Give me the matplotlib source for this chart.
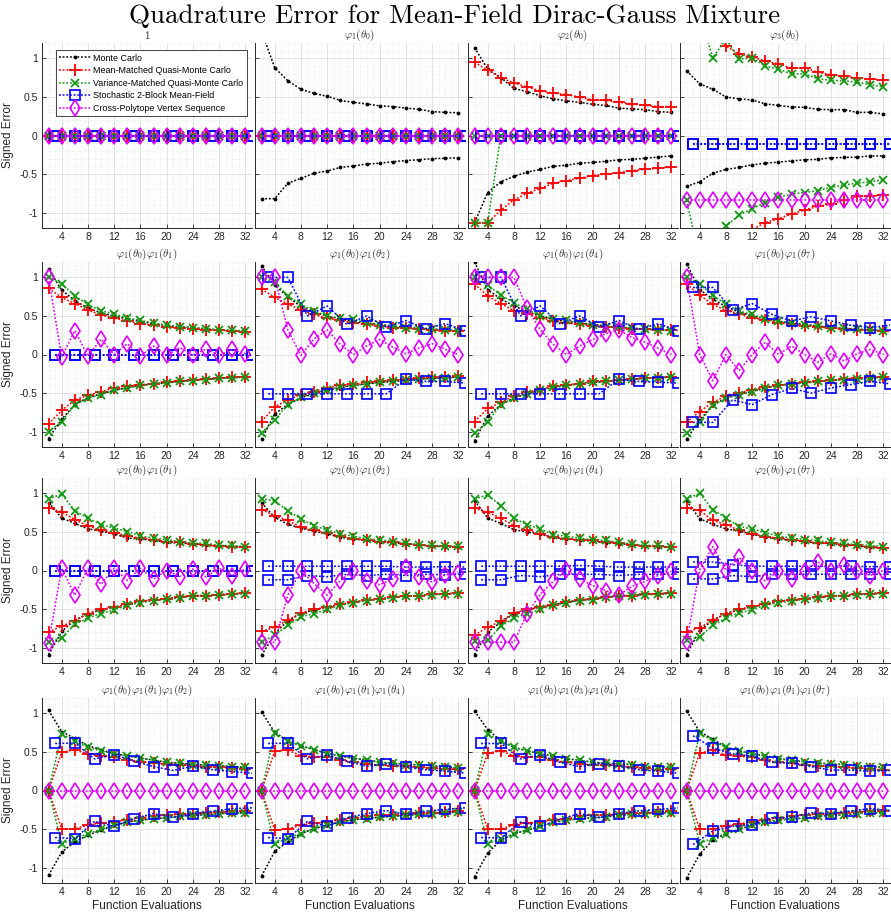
import matplotlib
matplotlib.use('Agg')
import matplotlib.pyplot as plt
from matplotlib.ticker import MultipleLocator

plt.rcParams['font.family'] = ['Liberation Sans', 'DejaVu Sans']
plt.rcParams['mathtext.fontset'] = 'cm'
plt.rcParams['axes.unicode_minus'] = False

# ---------------- data ----------------
x_even = [2, 4, 6, 8, 10, 12, 14, 16, 18, 20, 22, 24, 26, 28, 30, 32]
x_blue = [3, 6, 9, 12, 15, 18, 21, 24, 27, 30, 33]
x_ticks = [4, 8, 12, 16, 20, 24, 28, 32]
y_ticks = [-1, -0.5, 0, 0.5, 1]
y_ticklabels = ['-1', '-0.5', '0', '0.5', '1']

panel_titles = [
    r'$1$', r'$\varphi_1(\theta_0)$', r'$\varphi_2(\theta_0)$', r'$\varphi_3(\theta_0)$',
    r'$\varphi_1(\theta_0)\varphi_1(\theta_1)$', r'$\varphi_1(\theta_0)\varphi_1(\theta_2)$',
    r'$\varphi_1(\theta_0)\varphi_1(\theta_4)$', r'$\varphi_1(\theta_0)\varphi_1(\theta_7)$',
    r'$\varphi_2(\theta_0)\varphi_1(\theta_1)$', r'$\varphi_2(\theta_0)\varphi_1(\theta_2)$',
    r'$\varphi_2(\theta_0)\varphi_1(\theta_4)$', r'$\varphi_2(\theta_0)\varphi_1(\theta_7)$',
    r'$\varphi_1(\theta_0)\varphi_1(\theta_1)\varphi_1(\theta_2)$',
    r'$\varphi_1(\theta_0)\varphi_1(\theta_1)\varphi_1(\theta_4)$',
    r'$\varphi_1(\theta_0)\varphi_1(\theta_3)\varphi_1(\theta_4)$',
    r'$\varphi_1(\theta_0)\varphi_1(\theta_1)\varphi_1(\theta_7)$',
]
method_labels = ['Monte Carlo', 'Mean-Matched Quasi-Monte Carlo',
                 'Variance-Matched Quasi-Monte Carlo', 'Stochastic 2-Block Mean-Field',
                 'Cross-Polytope Vertex Sequence']

Z16 = [0, 0, 0, 0, 0, 0, 0, 0, 0, 0, 0, 0, 0, 0, 0, 0]
Z11 = [0, 0, 0, 0, 0, 0, 0, 0, 0, 0, 0]

mc_upper = [
    Z16,
    [1.35, 0.88, 0.71, 0.60, 0.545, 0.51, 0.455, 0.43, 0.41, 0.385, 0.375, 0.355, 0.34, 0.31, 0.30, 0.295],
    [1.14, 0.86, 0.75, 0.61, 0.57, 0.515, 0.475, 0.45, 0.43, 0.405, 0.39, 0.355, 0.345, 0.335, 0.31, 0.30],
    [0.84, 0.67, 0.60, 0.50, 0.475, 0.46, 0.41, 0.39, 0.37, 0.365, 0.34, 0.335, 0.335, 0.30, 0.30, 0.28],
    [1.11, 0.835, 0.70, 0.60, 0.54, 0.50, 0.46, 0.43, 0.40, 0.38, 0.36, 0.35, 0.33, 0.32, 0.31, 0.30],
    [1.15, 0.90, 0.75, 0.62, 0.55, 0.50, 0.46, 0.43, 0.41, 0.39, 0.37, 0.35, 0.34, 0.33, 0.32, 0.31],
    [1.20, 0.84, 0.72, 0.63, 0.56, 0.50, 0.46, 0.43, 0.41, 0.39, 0.37, 0.35, 0.34, 0.33, 0.32, 0.31],
    [1.18, 0.84, 0.72, 0.62, 0.55, 0.50, 0.46, 0.43, 0.41, 0.39, 0.37, 0.35, 0.34, 0.33, 0.32, 0.31],
    [0.88, 0.68, 0.61, 0.54, 0.51, 0.475, 0.42, 0.41, 0.39, 0.365, 0.355, 0.345, 0.33, 0.315, 0.315, 0.30],
    [0.88, 0.69, 0.60, 0.55, 0.51, 0.475, 0.43, 0.41, 0.39, 0.37, 0.355, 0.345, 0.33, 0.315, 0.31, 0.30],
    [0.905, 0.68, 0.61, 0.53, 0.50, 0.47, 0.43, 0.41, 0.395, 0.38, 0.36, 0.35, 0.335, 0.315, 0.31, 0.30],
    [0.905, 0.67, 0.60, 0.54, 0.51, 0.47, 0.43, 0.41, 0.39, 0.375, 0.355, 0.35, 0.335, 0.32, 0.30, 0.295],
    [1.04, 0.765, 0.675, 0.58, 0.53, 0.475, 0.45, 0.42, 0.395, 0.365, 0.355, 0.335, 0.33, 0.32, 0.31, 0.30],
    [1.02, 0.755, 0.645, 0.58, 0.53, 0.48, 0.45, 0.415, 0.40, 0.365, 0.355, 0.335, 0.335, 0.32, 0.31, 0.29],
    [1.03, 0.79, 0.645, 0.56, 0.515, 0.475, 0.445, 0.41, 0.395, 0.365, 0.355, 0.345, 0.335, 0.31, 0.31, 0.30],
    [1.03, 0.765, 0.665, 0.56, 0.515, 0.475, 0.45, 0.415, 0.39, 0.375, 0.355, 0.345, 0.335, 0.32, 0.31, 0.30],
]
mc_lower = [
    Z16,
    [-0.82, -0.82, -0.62, -0.555, -0.49, -0.46, -0.415, -0.395, -0.37, -0.36, -0.34, -0.325, -0.315, -0.30, -0.295, -0.29],
    [-1.13, -0.74, -0.60, -0.53, -0.475, -0.44, -0.40, -0.385, -0.36, -0.35, -0.335, -0.315, -0.31, -0.295, -0.28, -0.265],
    [-0.66, -0.60, -0.49, -0.44, -0.415, -0.38, -0.36, -0.345, -0.33, -0.315, -0.31, -0.29, -0.285, -0.28, -0.265, -0.265],
    [-1.09, -0.84, -0.65, -0.56, -0.51, -0.465, -0.43, -0.40, -0.38, -0.365, -0.35, -0.335, -0.32, -0.31, -0.30, -0.29],
    [-1.10, -0.77, -0.65, -0.56, -0.51, -0.465, -0.43, -0.40, -0.38, -0.365, -0.35, -0.335, -0.32, -0.31, -0.30, -0.29],
    [-1.12, -0.80, -0.65, -0.56, -0.51, -0.465, -0.43, -0.40, -0.38, -0.365, -0.35, -0.335, -0.32, -0.31, -0.30, -0.29],
    [-1.10, -0.85, -0.66, -0.565, -0.52, -0.48, -0.435, -0.40, -0.38, -0.37, -0.35, -0.335, -0.325, -0.32, -0.305, -0.295],
    [-1.09, -0.79, -0.645, -0.56, -0.51, -0.475, -0.44, -0.40, -0.38, -0.365, -0.345, -0.325, -0.325, -0.315, -0.30, -0.295],
    [-1.10, -0.82, -0.65, -0.56, -0.51, -0.475, -0.44, -0.41, -0.385, -0.37, -0.35, -0.33, -0.325, -0.31, -0.30, -0.295],
    [-1.09, -0.80, -0.67, -0.56, -0.51, -0.475, -0.445, -0.41, -0.385, -0.37, -0.345, -0.33, -0.325, -0.31, -0.30, -0.29],
    [-1.09, -0.775, -0.645, -0.56, -0.51, -0.47, -0.44, -0.40, -0.38, -0.365, -0.345, -0.33, -0.325, -0.31, -0.30, -0.29],
    [-1.10, -0.80, -0.665, -0.58, -0.515, -0.45, -0.41, -0.385, -0.365, -0.355, -0.335, -0.32, -0.315, -0.30, -0.29, -0.29],
    [-1.11, -0.79, -0.665, -0.56, -0.495, -0.45, -0.41, -0.38, -0.365, -0.345, -0.335, -0.32, -0.31, -0.30, -0.29, -0.28],
    [-1.12, -0.81, -0.645, -0.56, -0.515, -0.465, -0.415, -0.385, -0.365, -0.355, -0.345, -0.32, -0.31, -0.30, -0.29, -0.29],
    [-1.14, -0.825, -0.645, -0.56, -0.505, -0.45, -0.41, -0.385, -0.365, -0.36, -0.335, -0.32, -0.315, -0.30, -0.29, -0.29],
]
mm_upper = [
    Z16,
    Z16,
    [0.95, 0.85, 0.75, 0.68, 0.63, 0.58, 0.55, 0.53, 0.50, 0.46, 0.455, 0.43, 0.41, 0.39, 0.375, 0.375],
    [1.8, 1.5, 1.3, 1.16, 1.06, 1.02, 0.965, 0.93, 0.875, 0.88, 0.82, 0.79, 0.77, 0.745, 0.735, 0.715],
    [0.86, 0.74, 0.66, 0.58, 0.51, 0.47, 0.435, 0.40, 0.38, 0.36, 0.34, 0.335, 0.32, 0.315, 0.305, 0.295],
    [0.85, 0.74, 0.655, 0.58, 0.52, 0.47, 0.445, 0.41, 0.39, 0.37, 0.35, 0.34, 0.33, 0.32, 0.305, 0.30],
    [0.915, 0.76, 0.66, 0.57, 0.53, 0.48, 0.435, 0.41, 0.39, 0.37, 0.36, 0.35, 0.335, 0.325, 0.32, 0.32],
    [0.915, 0.77, 0.65, 0.57, 0.53, 0.47, 0.45, 0.41, 0.39, 0.37, 0.36, 0.34, 0.335, 0.32, 0.32, 0.305],
    [0.81, 0.76, 0.66, 0.58, 0.52, 0.49, 0.45, 0.42, 0.40, 0.375, 0.365, 0.345, 0.335, 0.315, 0.31, 0.30],
    [0.79, 0.71, 0.65, 0.56, 0.52, 0.49, 0.445, 0.41, 0.40, 0.375, 0.365, 0.345, 0.335, 0.315, 0.315, 0.31],
    [0.81, 0.755, 0.68, 0.58, 0.52, 0.475, 0.43, 0.41, 0.40, 0.39, 0.365, 0.355, 0.335, 0.315, 0.315, 0.30],
    [0.81, 0.78, 0.65, 0.595, 0.52, 0.475, 0.44, 0.42, 0.40, 0.38, 0.355, 0.355, 0.335, 0.325, 0.30, 0.295],
    [0.0, 0.495, 0.53, 0.475, 0.445, 0.43, 0.40, 0.375, 0.36, 0.345, 0.335, 0.32, 0.31, 0.30, 0.29, 0.28],
    [0.0, 0.51, 0.525, 0.45, 0.44, 0.44, 0.40, 0.365, 0.345, 0.33, 0.32, 0.32, 0.30, 0.29, 0.28, 0.275],
    [0.0, 0.485, 0.515, 0.45, 0.43, 0.44, 0.39, 0.365, 0.345, 0.335, 0.335, 0.32, 0.30, 0.29, 0.265, 0.28],
    [0.0, 0.485, 0.525, 0.46, 0.445, 0.43, 0.39, 0.365, 0.355, 0.335, 0.32, 0.315, 0.30, 0.29, 0.28, 0.27],
]
mm_lower = [
    Z16,
    Z16,
    [-1.13, -1.13, -0.97, -0.835, -0.75, -0.685, -0.62, -0.585, -0.555, -0.52, -0.50, -0.48, -0.455, -0.44, -0.425, -0.41],
    [-1.6, -1.5, -1.45, -1.4, -1.3, -1.22, -1.13, -1.08, -1.02, -0.965, -0.92, -0.89, -0.835, -0.79, -0.785, -0.77],
    [-0.90, -0.725, -0.59, -0.53, -0.48, -0.435, -0.41, -0.39, -0.38, -0.36, -0.34, -0.33, -0.32, -0.31, -0.295, -0.29],
    [-0.87, -0.68, -0.59, -0.52, -0.48, -0.43, -0.40, -0.385, -0.36, -0.35, -0.335, -0.32, -0.31, -0.295, -0.29, -0.285],
    [-0.87, -0.70, -0.62, -0.54, -0.49, -0.455, -0.41, -0.39, -0.38, -0.35, -0.35, -0.33, -0.32, -0.305, -0.305, -0.29],
    [-0.88, -0.74, -0.62, -0.54, -0.50, -0.455, -0.42, -0.40, -0.38, -0.36, -0.35, -0.335, -0.32, -0.305, -0.295, -0.29],
    [-0.80, -0.72, -0.655, -0.56, -0.505, -0.475, -0.44, -0.40, -0.38, -0.365, -0.345, -0.325, -0.325, -0.315, -0.30, -0.295],
    [-0.79, -0.735, -0.645, -0.55, -0.505, -0.475, -0.44, -0.41, -0.38, -0.365, -0.345, -0.33, -0.325, -0.31, -0.30, -0.295],
    [-0.84, -0.735, -0.66, -0.55, -0.50, -0.475, -0.445, -0.41, -0.38, -0.365, -0.345, -0.33, -0.325, -0.31, -0.30, -0.29],
    [-0.80, -0.74, -0.645, -0.56, -0.505, -0.465, -0.44, -0.40, -0.38, -0.365, -0.345, -0.33, -0.325, -0.31, -0.30, -0.29],
    [0.0, -0.50, -0.495, -0.45, -0.42, -0.41, -0.38, -0.355, -0.335, -0.32, -0.31, -0.30, -0.29, -0.28, -0.27, -0.265],
    [0.0, -0.515, -0.50, -0.45, -0.42, -0.41, -0.38, -0.355, -0.335, -0.32, -0.315, -0.30, -0.29, -0.29, -0.28, -0.27],
    [0.0, -0.50, -0.50, -0.445, -0.42, -0.41, -0.38, -0.365, -0.335, -0.32, -0.32, -0.30, -0.29, -0.29, -0.28, -0.27],
    [0.0, -0.50, -0.50, -0.46, -0.43, -0.41, -0.38, -0.355, -0.335, -0.315, -0.31, -0.30, -0.29, -0.28, -0.26, -0.265],
]
vm_upper = [
    Z16,
    Z16,
    Z16,
    [1.8, 1.55, 1.01, 1.25, 0.99, 1.01, 0.90, 0.86, 0.80, 0.80, 0.735, 0.715, 0.71, 0.69, 0.66, 0.63],
    [1.0, 0.92, 0.76, 0.65, 0.565, 0.53, 0.47, 0.445, 0.405, 0.38, 0.355, 0.35, 0.335, 0.32, 0.315, 0.305],
    [1.0, 0.94, 0.76, 0.65, 0.565, 0.50, 0.47, 0.46, 0.41, 0.38, 0.37, 0.34, 0.335, 0.33, 0.32, 0.305],
    [1.0, 0.90, 0.77, 0.67, 0.59, 0.50, 0.46, 0.445, 0.415, 0.38, 0.36, 0.36, 0.34, 0.325, 0.32, 0.31],
    [1.0, 0.92, 0.77, 0.65, 0.565, 0.52, 0.46, 0.435, 0.405, 0.38, 0.37, 0.35, 0.34, 0.325, 0.32, 0.305],
    [0.93, 0.99, 0.775, 0.68, 0.595, 0.55, 0.505, 0.45, 0.42, 0.40, 0.375, 0.355, 0.355, 0.325, 0.325, 0.31],
    [0.93, 0.905, 0.775, 0.67, 0.58, 0.525, 0.475, 0.445, 0.41, 0.40, 0.375, 0.355, 0.335, 0.325, 0.315, 0.315],
    [0.93, 0.98, 0.84, 0.68, 0.595, 0.54, 0.465, 0.445, 0.42, 0.40, 0.39, 0.365, 0.345, 0.325, 0.325, 0.30],
    [0.93, 1.0, 0.79, 0.68, 0.57, 0.54, 0.49, 0.45, 0.42, 0.40, 0.39, 0.365, 0.355, 0.335, 0.325, 0.31],
    [0.0, 0.73, 0.645, 0.56, 0.515, 0.475, 0.45, 0.42, 0.395, 0.365, 0.355, 0.335, 0.33, 0.32, 0.31, 0.30],
    [0.0, 0.74, 0.645, 0.58, 0.53, 0.48, 0.45, 0.415, 0.40, 0.365, 0.355, 0.335, 0.335, 0.32, 0.31, 0.29],
    [0.0, 0.73, 0.645, 0.56, 0.515, 0.475, 0.445, 0.41, 0.395, 0.365, 0.355, 0.345, 0.335, 0.31, 0.31, 0.30],
    [0.0, 0.74, 0.645, 0.56, 0.515, 0.475, 0.45, 0.415, 0.39, 0.375, 0.355, 0.345, 0.335, 0.32, 0.31, 0.30],
]
vm_lower = [
    Z16,
    Z16,
    [-1.13, -1.13, 0, 0, 0, 0, 0, 0, 0, 0, 0, 0, 0, 0, 0, 0],
    [-0.84, -1.6, -1.5, -1.18, -1.03, -0.95, -0.87, -0.80, -0.76, -0.74, -0.715, -0.675, -0.64, -0.62, -0.60, -0.575],
    [-1.0, -0.87, -0.65, -0.565, -0.52, -0.465, -0.435, -0.40, -0.38, -0.37, -0.35, -0.34, -0.325, -0.31, -0.305, -0.295],
    [-1.02, -0.85, -0.65, -0.555, -0.50, -0.455, -0.42, -0.40, -0.38, -0.36, -0.34, -0.33, -0.32, -0.31, -0.305, -0.29],
    [-1.02, -0.87, -0.65, -0.565, -0.51, -0.465, -0.42, -0.40, -0.38, -0.36, -0.35, -0.33, -0.32, -0.31, -0.305, -0.29],
    [-1.02, -0.88, -0.66, -0.565, -0.52, -0.48, -0.435, -0.40, -0.38, -0.37, -0.35, -0.335, -0.325, -0.32, -0.305, -0.295],
    [-0.93, -0.87, -0.70, -0.615, -0.56, -0.51, -0.45, -0.42, -0.39, -0.375, -0.355, -0.335, -0.325, -0.315, -0.31, -0.30],
    [-0.93, -0.84, -0.71, -0.60, -0.56, -0.505, -0.45, -0.42, -0.39, -0.375, -0.355, -0.335, -0.325, -0.315, -0.31, -0.30],
    [-0.92, -0.905, -0.725, -0.615, -0.56, -0.505, -0.45, -0.42, -0.39, -0.38, -0.345, -0.325, -0.325, -0.315, -0.31, -0.30],
    [-0.905, -0.86, -0.71, -0.615, -0.55, -0.51, -0.45, -0.42, -0.395, -0.375, -0.36, -0.335, -0.33, -0.315, -0.31, -0.30],
    [0.0, -0.69, -0.625, -0.56, -0.505, -0.45, -0.41, -0.385, -0.365, -0.355, -0.335, -0.32, -0.315, -0.30, -0.29, -0.29],
    [0.0, -0.70, -0.61, -0.56, -0.495, -0.45, -0.41, -0.38, -0.365, -0.345, -0.335, -0.32, -0.31, -0.30, -0.29, -0.28],
    [0.0, -0.69, -0.63, -0.56, -0.515, -0.465, -0.415, -0.385, -0.365, -0.355, -0.345, -0.32, -0.31, -0.30, -0.29, -0.29],
    [0.0, -0.69, -0.615, -0.56, -0.505, -0.45, -0.41, -0.385, -0.365, -0.36, -0.335, -0.32, -0.315, -0.30, -0.29, -0.29],
]
sb_upper = [
    Z11,
    Z11,
    Z11,
    [-0.11, -0.11, -0.11, -0.11, -0.11, -0.11, -0.11, -0.11, -0.11, -0.11, -0.11],
    Z11,
    [1.0, 1.0, 0.50, 0.63, 0.39, 0.50, 0.355, 0.44, 0.335, 0.40, 0.31],
    [1.0, 1.0, 0.50, 0.63, 0.40, 0.50, 0.355, 0.44, 0.325, 0.40, 0.31],
    [0.87, 0.87, 0.58, 0.66, 0.52, 0.435, 0.49, 0.435, 0.38, 0.35, 0.38],
    Z11,
    [0.055, 0.055, 0.055, 0.055, 0.055, 0.055, 0.055, 0.045, 0.045, 0.05, 0.045],
    [0.055, 0.055, 0.055, 0.055, 0.055, 0.065, 0.055, 0.045, 0.045, 0.045, 0.045],
    [0.11, 0.11, 0.075, 0.055, 0.055, 0.055, 0.055, 0.055, 0.055, 0.05, 0.05],
    [0.61, 0.615, 0.41, 0.465, 0.38, 0.31, 0.26, 0.315, 0.27, 0.245, 0.225],
    [0.61, 0.615, 0.41, 0.46, 0.38, 0.315, 0.345, 0.31, 0.27, 0.25, 0.225],
    [0.61, 0.61, 0.41, 0.46, 0.365, 0.31, 0.35, 0.32, 0.27, 0.25, 0.225],
    [0.71, 0.55, 0.475, 0.445, 0.365, 0.355, 0.31, 0.265, 0.265, 0.25, 0.26],
]
sb_lower = [
    Z11,
    Z11,
    Z11,
    [-0.11, -0.11, -0.11, -0.11, -0.11, -0.11, -0.11, -0.11, -0.11, -0.11, -0.11],
    Z11,
    [-0.51, -0.51, -0.51, -0.51, -0.51, -0.51, -0.51, -0.32, -0.35, -0.35, -0.37],
    [-0.51, -0.51, -0.51, -0.51, -0.51, -0.51, -0.51, -0.32, -0.35, -0.36, -0.37],
    [-0.88, -0.88, -0.59, -0.65, -0.52, -0.44, -0.50, -0.435, -0.39, -0.35, -0.38],
    Z11,
    [-0.12, -0.12, -0.065, -0.08, -0.05, -0.065, -0.05, -0.065, -0.05, -0.055, -0.045],
    [-0.12, -0.12, -0.065, -0.08, -0.05, -0.05, -0.05, -0.065, -0.05, -0.05, -0.045],
    [-0.11, -0.11, -0.065, -0.08, -0.05, -0.05, -0.05, -0.048, -0.048, -0.048, -0.05],
    [-0.61, -0.625, -0.40, -0.465, -0.365, -0.30, -0.35, -0.30, -0.27, -0.235, -0.225],
    [-0.61, -0.625, -0.40, -0.465, -0.355, -0.30, -0.26, -0.31, -0.27, -0.245, -0.225],
    [-0.61, -0.615, -0.41, -0.465, -0.375, -0.30, -0.35, -0.30, -0.265, -0.245, -0.225],
    [-0.70, -0.525, -0.465, -0.445, -0.355, -0.35, -0.29, -0.30, -0.265, -0.235, -0.26],
]
cp_values = [
    Z16,
    Z16,
    Z16,
    [-0.835, -0.835, -0.835, -0.835, -0.835, -0.835, -0.835, -0.835, -0.835, -0.835, -0.835, -0.835, -0.835, -0.835, -0.835, -0.835],
    [1.0, -0.03, 0.31, -0.02, 0.20, 0.0, 0.14, -0.02, 0.11, -0.01, 0.09, -0.01, 0.07, -0.01, 0.065, 0.01],
    [1.0, 1.0, 0.32, -0.01, 0.20, 0.32, 0.13, 0.0, 0.11, 0.195, 0.095, 0.01, 0.085, 0.14, 0.065, 0.0],
    [1.0, 1.0, 1.0, 1.0, 0.60, 0.325, 0.13, 0.0, 0.11, 0.195, 0.27, 0.32, 0.22, 0.16, 0.08, 0.0],
    [1.0, 0.0, -0.34, 0.0, -0.21, 0.0, 0.16, 0.0, 0.11, 0.0, -0.10, 0.01, -0.085, 0.01, 0.065, 0.0],
    [-0.94, 0.03, -0.32, 0.03, -0.18, 0.03, -0.13, 0.03, -0.11, 0.0, -0.08, 0.02, -0.085, 0.03, -0.065, 0.02],
    [-0.93, -0.93, -0.32, 0.0, -0.17, -0.32, -0.13, 0.0, -0.13, -0.185, -0.11, 0.045, -0.085, -0.15, -0.055, -0.03],
    [-0.93, -0.93, -0.93, -0.93, -0.56, -0.31, -0.14, 0.01, -0.11, -0.195, -0.26, -0.32, -0.205, -0.14, -0.065, -0.01],
    [-0.93, 0.01, 0.31, 0.0, 0.17, 0.0, -0.14, 0.0, -0.11, 0.0, 0.11, 0.0, 0.075, 0.0, -0.065, 0.0],
    Z16,
    Z16,
    Z16,
    Z16,
]

# ---------------- styling ----------------
W, H = 891, 919
fig = plt.figure(figsize=(W / 100, H / 100), dpi=100)

col_left_px = [42, 255, 468, 680]
row_top_px = [43, 262, 478, 698]
ax_w_px, ax_h_px = 210, 185

dotted = (0, (1.2, 1.2))
styles = [
    dict(color='black', marker='.', ms=3.5, mfc='black', mec='black'),
    dict(color='#ff0000', marker='+', ms=8, mew=1.3),
    dict(color='#119911', marker='x', ms=6, mew=1.3),
    dict(color='#0000ff', marker='s', ms=6.5, mfc='none', mew=1.2),
    dict(color='#dd00ff', marker='d', ms=8.5, mfc='none', mew=1.2),
]
axis_col = '#262626'

legend_handles = None
for i in range(16):
    r, c = divmod(i, 4)
    left = col_left_px[c] / W
    bottom = 1 - (row_top_px[r] + ax_h_px) / H
    ax = fig.add_axes([left, bottom, ax_w_px / W, ax_h_px / H])
    ax.set_xlim(1, 33)
    ax.set_ylim(-1.2, 1.2)

    ax.grid(True, which='major', color='#dedede', lw=0.6)
    ax.grid(True, which='minor', color='#e4e4e4', lw=0.5, ls=':')
    ax.xaxis.set_minor_locator(MultipleLocator(1))
    ax.yaxis.set_minor_locator(MultipleLocator(0.1))
    ax.set_axisbelow(True)

    lw = 1.1
    h0, = ax.plot(x_even, mc_upper[i], ls=dotted, lw=lw, label=method_labels[0], **styles[0])
    ax.plot(x_even, mc_lower[i], ls=dotted, lw=lw, **styles[0])
    h1, = ax.plot(x_even, mm_upper[i], ls=dotted, lw=lw, label=method_labels[1], **styles[1])
    ax.plot(x_even, mm_lower[i], ls=dotted, lw=lw, **styles[1])
    h2, = ax.plot(x_even, vm_upper[i], ls=dotted, lw=lw, label=method_labels[2], **styles[2])
    ax.plot(x_even, vm_lower[i], ls=dotted, lw=lw, **styles[2])
    h3, = ax.plot(x_blue, sb_upper[i], ls=dotted, lw=lw, label=method_labels[3], **styles[3])
    ax.plot(x_blue, sb_lower[i], ls=dotted, lw=lw, **styles[3])
    h4, = ax.plot(x_even, cp_values[i], ls=dotted, lw=lw, label=method_labels[4], **styles[4])
    if i == 0:
        legend_handles = [h0, h1, h2, h3, h4]

    ax.set_xticks(x_ticks)
    ax.set_yticks(y_ticks)
    if c == 0:
        ax.set_yticklabels(y_ticklabels)
        ax.set_ylabel('Signed Error', fontsize=8.5, color=axis_col, labelpad=4)
    else:
        ax.set_yticklabels([])
    if r == 3:
        ax.set_xlabel('Function Evaluations', fontsize=8.5, color=axis_col, labelpad=2)

    ax.tick_params(which='major', direction='in', length=3, width=0.6,
                   colors=axis_col, labelsize=7.5, pad=3)
    ax.tick_params(which='minor', length=0)
    for s in ['top', 'right']:
        ax.spines[s].set_visible(False)
    for s in ['left', 'bottom']:
        ax.spines[s].set_color(axis_col)
        ax.spines[s].set_linewidth(0.7)

    ax.set_title(panel_titles[i], fontsize=8, pad=3, color='#333333')

    if i == 0:
        leg = ax.legend(handles=legend_handles, loc='upper left',
                        bbox_to_anchor=(0.065, 0.96), borderaxespad=0,
                        fontsize=6.4, handlelength=3.6, handletextpad=0.3,
                        labelspacing=0.4, borderpad=0.35, fancybox=False,
                        framealpha=1)
        leg.get_frame().set_edgecolor(axis_col)
        leg.get_frame().set_linewidth(0.6)

fig.text(455 / W, 1 - 16 / H, 'Quadrature Error for Mean-Field Dirac-Gauss Mixture',
         ha='center', va='center', fontsize=19.5, family='cmr10')

fig.savefig('out.png', dpi=100)
